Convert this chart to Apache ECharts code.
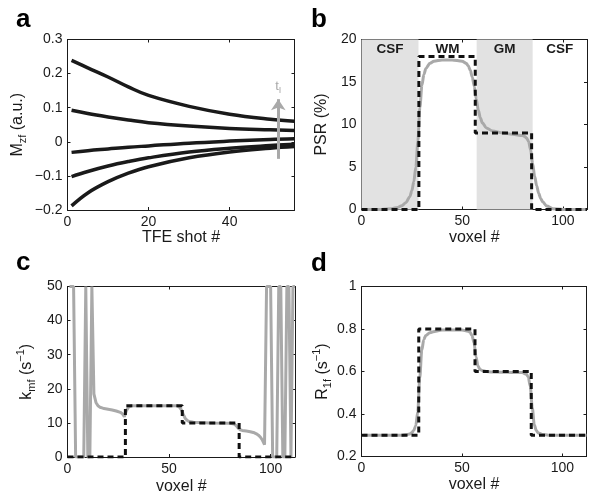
<!DOCTYPE html>
<html><head><meta charset="utf-8">
<script src="https://cdn.jsdelivr.net/npm/echarts@6/dist/echarts.min.js"></script>
<style>html,body{margin:0;padding:0;background:#fff}#c{width:601px;height:500px}</style>
</head><body><div id="c"></div>
<script>
// ---------- Panel a : Mzf vs TFE shot ----------
const aShots  = [1, 5, 10, 15, 20, 30, 40, 50, 56];
const aCurve1 = [0.239, 0.217, 0.190, 0.161, 0.136, 0.104, 0.081, 0.066, 0.060];
const aCurve2 = [0.0925, 0.083, 0.073, 0.064, 0.056, 0.046, 0.039, 0.035, 0.033];
const aCurve3 = [-0.031, -0.026, -0.021, -0.016, -0.012, -0.004, 0.002, 0.007, 0.009];
const aCurve4 = [-0.102, -0.087, -0.071, -0.058, -0.047, -0.030, -0.019, -0.011, -0.007];
const aCurve5 = [-0.188, -0.150, -0.117, -0.092, -0.073, -0.047, -0.030, -0.019, -0.014];
const aArrowX = 52, aArrowFrom = -0.05, aArrowTo = 0.125;

// ---------- tissue truth (voxel steps) ----------
const stepEdges = [28.5, 56.5, 84.5];
const voxelMax = 112;
const regionEdges = [0, 28.3, 57.2, 85, 112];
const regionNames = ['CSF', 'WM', 'GM', 'CSF'];
const regionShaded = [true, false, true, false];

// ---------- Panel b : PSR ----------
const bTrue = [0, 18, 9, 0];
const bVox = [1, 10, 15, 18, 20, 22, 24, 25, 26, 27, 28, 29, 30, 31, 32, 34, 36, 40, 45, 50, 52, 53, 54, 55, 56, 57, 58, 59, 60, 62, 65, 70, 75, 80, 81, 82, 83, 84, 85, 86, 87, 88, 89, 90, 92, 95, 100, 112];
const bFit = [0, 0, 0.1, 0.25, 0.45, 0.8, 1.5, 2.2, 3.3, 5.0, 8.0, 12.0, 14.6, 15.9, 16.6, 17.2, 17.45, 17.6, 17.6, 17.45, 17.2, 16.9, 16.4, 15.6, 14.5, 13.0, 11.7, 10.8, 10.2, 9.6, 9.25, 9.0, 8.85, 8.7, 8.6, 8.4, 8.0, 7.0, 5.4, 3.9, 2.8, 1.9, 1.3, 0.9, 0.4, 0.1, 0, 0];

// ---------- Panel c : kmf ----------
const cTrue = [0, 15, 10, 0];
const cVox = [1,2,3,4,5,6,7,8,9,10,11,12,13,14,15,16,17,18,20,22,24,26,27,28,29,30,31,32,40,50,54,55,56,57,58,59,60,62,65,70,80,82,83,84,85,86,88,90,92,93,94,95,96,97,98,99,100,101,102,103,104,105,106,107,108,109,110,111,112];
const cFit = [50,50,50,0,0,0,0,0,50,0,0,50,18.5,16.0,15.0,14.6,14.4,14.2,14.0,13.8,13.5,13.1,12.7,11.8,13.6,14.6,14.9,15.0,15.0,15.0,15.0,14.7,13.9,12.5,11.3,10.7,10.4,10.2,10.1,10.0,9.9,9.7,9.2,8.5,8.0,7.8,7.6,7.4,7.1,6.8,6.4,5.8,4.9,3.6,50,50,50,0,0,0,50,50,0,0,50,50,0,50,50];

// ---------- Panel d : R1f ----------
const dTrue = [0.3, 0.8, 0.6, 0.3];
const dVox = [1, 20, 22, 24, 25, 26, 27, 28, 29, 30, 31, 32, 34, 37, 40, 50, 53, 54, 55, 56, 57, 58, 59, 60, 62, 65, 80, 82, 83, 84, 85, 86, 87, 88, 90, 93, 112];
const dFit = [0.3, 0.3, 0.302, 0.306, 0.312, 0.322, 0.345, 0.41, 0.57, 0.70, 0.75, 0.77, 0.782, 0.79, 0.795, 0.795, 0.79, 0.785, 0.77, 0.735, 0.67, 0.625, 0.61, 0.605, 0.6, 0.598, 0.595, 0.588, 0.575, 0.53, 0.43, 0.35, 0.322, 0.311, 0.304, 0.3, 0.3];

const FONT = 'Liberation Sans, Arial, Helvetica, sans-serif';
const INK = '#1a1a1a';
const GRAYLINE = '#a9a9a9';

function zip(xs, ys) { return xs.map((x, i) => [x, ys[i]]); }
function stepData(vals) {
  const pts = [[0, vals[0]]];
  stepEdges.forEach((e, i) => { pts.push([e, vals[i]]); pts.push([e, vals[i + 1]]); });
  pts.push([voxelMax, vals[vals.length - 1]]);
  return pts;
}

const grids = [
  { left: 67.5, top: 39.5, width: 227, height: 170.5 },
  { left: 361.5, top: 39.5, width: 225.5, height: 170 },
  { left: 67.5, top: 286.5, width: 227.5, height: 170.5 },
  { left: 361.5, top: 286.5, width: 225, height: 170 }
];

const rich = {
  n: { fontSize: 16, fontFamily: FONT, color: INK },
  s: { fontSize: 11, fontFamily: FONT, color: INK, verticalAlign: 'bottom', padding: [11, 0, 0, 0] },
  p: { fontSize: 11, fontFamily: FONT, color: INK, verticalAlign: 'top', padding: [0, 0, 9, 0] }
};

const axisLine = { show: true, onZero: false, lineStyle: { color: INK, width: 1 } };
const tick = { show: true, inside: true, length: 3, lineStyle: { color: INK, width: 1 } };
const fmt = v => String(+v.toFixed(6)).replace('-', '\u2212');
const xlabel = { color: INK, fontSize: 14, fontFamily: FONT, margin: 5, showMaxLabel: false, formatter: fmt };
const ylabel = { color: INK, fontSize: 14, fontFamily: FONT, margin: 5, formatter: fmt };

const xAxes = [], yAxes = [];
function addAxes(g, xr, yr, xname, xgap, yname, ygap) {
  xAxes.push({ type: 'value', gridIndex: g, position: 'bottom', min: xr[0], max: xr[1], interval: xr[2],
    axisLine, axisTick: tick, axisLabel: xlabel, splitLine: { show: false },
    name: xname, nameLocation: 'middle', nameGap: xgap,
    nameTextStyle: { fontSize: 16, fontFamily: FONT, color: INK } });
  xAxes.push({ type: 'value', gridIndex: g, position: 'top', min: xr[0], max: xr[1], interval: xr[2],
    axisLine, axisTick: tick, axisLabel: { show: false }, splitLine: { show: false } });
  yAxes.push({ type: 'value', gridIndex: g, position: 'left', min: yr[0], max: yr[1], interval: yr[2],
    axisLine, axisTick: tick, axisLabel: ylabel, splitLine: { show: false },
    name: yname, nameLocation: 'middle', nameGap: ygap, nameRotate: 90,
    nameTextStyle: { rich } });
  yAxes.push({ type: 'value', gridIndex: g, position: 'right', min: yr[0], max: yr[1], interval: yr[2],
    axisLine, axisTick: tick, axisLabel: { show: false }, splitLine: { show: false } });
}
addAxes(0, [0, 56, 20], [-0.2, 0.3, 0.1], 'TFE shot #', 19, '{n|M}{s|zf}{n| (a.u.)}', 39);
addAxes(1, [0, voxelMax, 50], [0, 20, 5], 'voxel #', 20, '{n|PSR (%)}', 32);
addAxes(2, [0, voxelMax, 50], [0, 50, 10], 'voxel #', 22, '{n|k}{s|mf}{n| (s}{p|\u22121}{n|)}', 30);
addAxes(3, [0, voxelMax, 50], [0.2, 1, 0.2], 'voxel #', 20, '{n|R}{s|1f}{n| (s}{p|\u22121}{n|)}', 28);

const series = [];
const blackLine = { color: INK, width: 3.5 };
[aCurve1, aCurve2, aCurve3, aCurve4, aCurve5].forEach((c, i) => {
  const s = { type: 'line', xAxisIndex: 0, yAxisIndex: 0, data: zip(aShots, c), smooth: 0.4,
    showSymbol: false, symbol: 'none', lineStyle: blackLine, z: 3 };
  if (i === 0) {
    s.markLine = { silent: true, symbol: ['none', 'arrow'], symbolSize: [11, 11],
      lineStyle: { color: GRAYLINE, width: 3, type: 'solid' },
      label: { show: true, position: 'end', distance: 4, formatter: '{t|t}{i|I}',
        rich: { t: { fontSize: 13, color: GRAYLINE, fontFamily: FONT },
                i: { fontSize: 9, color: GRAYLINE, fontFamily: FONT, verticalAlign: 'bottom', padding: [8, 0, 0, 0] } } },
      data: [[{ coord: [aArrowX, aArrowFrom] }, { coord: [aArrowX, aArrowTo] }]] };
  }
  series.push(s);
});

// panel b shaded tissue regions
const areas = regionNames.map((nm, i) => [
  { name: nm, xAxis: regionEdges[i], itemStyle: { color: regionShaded[i] ? '#e2e2e2' : 'rgba(0,0,0,0)' } },
  { xAxis: regionEdges[i + 1] }
]);
series.push({ type: 'line', xAxisIndex: 2, yAxisIndex: 2, data: [], z: 0,
  markArea: { silent: true, data: areas,
    label: { show: true, position: 'insideTop', distance: 3, color: INK, fontSize: 13.5, fontWeight: 'bold', fontFamily: FONT } } });

const grayStyle = { color: GRAYLINE, width: 3 };
const dashStyle = { color: '#111', width: 3, type: [6, 4], cap: 'butt' };
function addPanel(axIdx, fitX, fitY, truth, smooth) {
  series.push({ type: 'line', xAxisIndex: axIdx, yAxisIndex: axIdx, data: zip(fitX, fitY),
    smooth: smooth ? 0.3 : false, smoothMonotone: 'x', symbol: 'none', lineStyle: grayStyle, z: 2 });
  series.push({ type: 'line', xAxisIndex: axIdx, yAxisIndex: axIdx, data: stepData(truth),
    symbol: 'none', lineStyle: dashStyle, z: 3 });
}
addPanel(2, bVox, bFit, bTrue, true);
addPanel(4, cVox, cFit, cTrue, false);
addPanel(6, dVox, dFit, dTrue, true);

const letters = [['a', 16, 37], ['b', 311, 37], ['c', 16, 280], ['d', 311, 281]];
const graphic = letters.map(([t, x, y]) => ({ type: 'text', left: x, top: y - 30,
  style: { text: t, font: 'bold 26px ' + FONT, fill: '#000' } }));

const chart = echarts.init(document.getElementById('c'), null, { renderer: 'canvas' });
chart.setOption({ animation: false, backgroundColor: '#fff', grid: grids, xAxis: xAxes, yAxis: yAxes, series, graphic });
</script></body></html>
